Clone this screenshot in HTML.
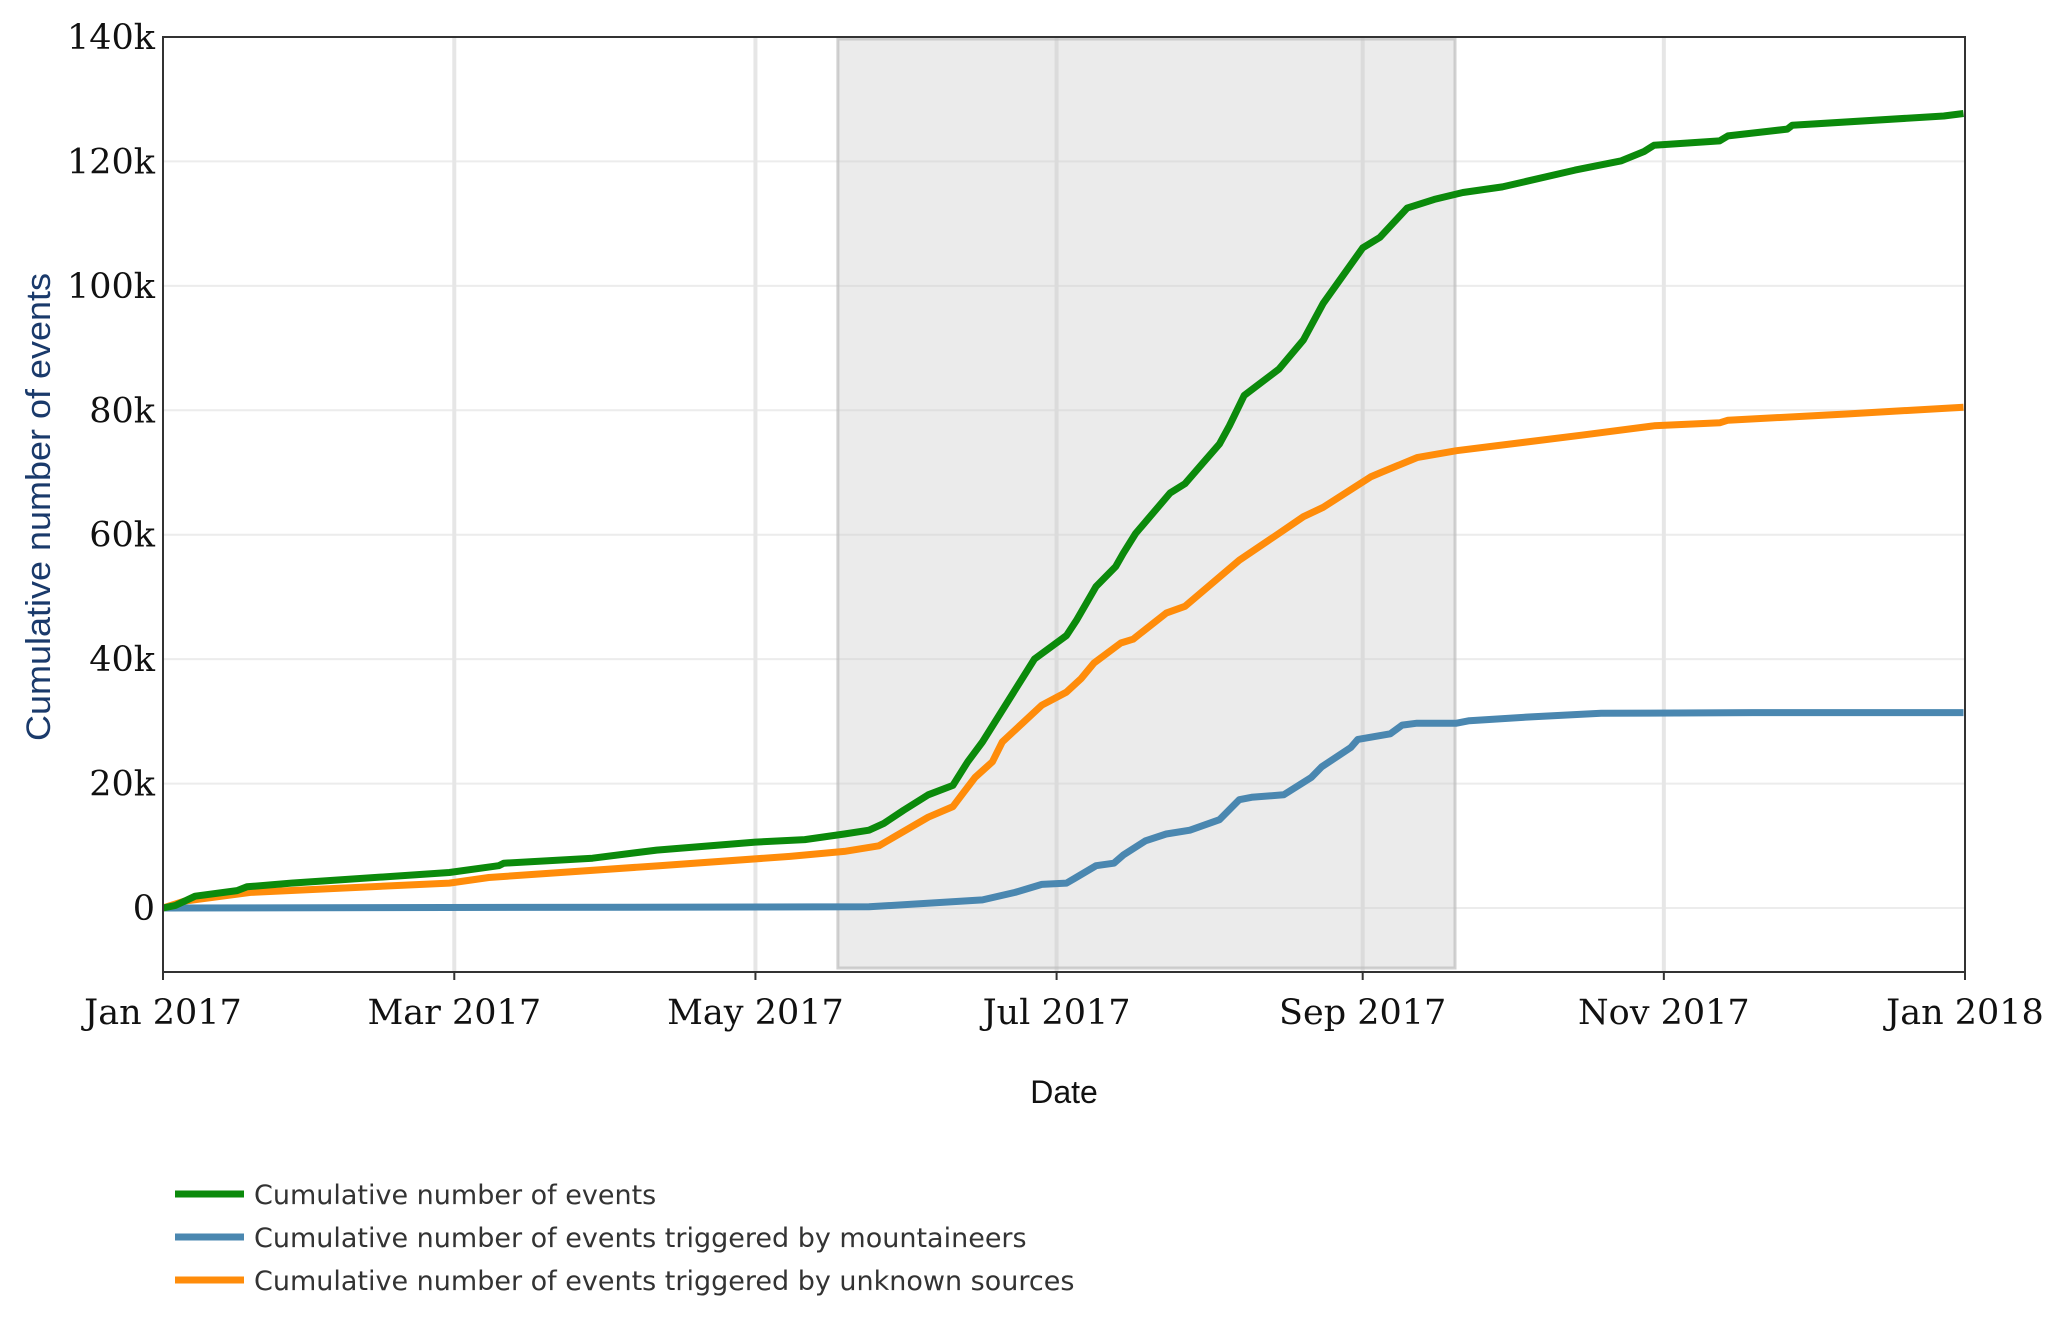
<!DOCTYPE html>
<html><head><meta charset="utf-8"><style>
html,body{margin:0;padding:0;background:#fff;}
svg{display:block;}
</style></head><body>
<svg id="chart" width="2067" height="1319" xmlns="http://www.w3.org/2000/svg">
<g id="grid"></g>
<rect id="shade"></rect>
<g id="series"></g>
<g id="axes"></g>
<text x="50" y="507" transform="rotate(-90 50 507)" text-anchor="middle" font-family="Liberation Sans, sans-serif" font-size="34" textLength="468" lengthAdjust="spacingAndGlyphs" fill="#1a3a6b">Cumulative number of events</text>
<text x="1064" y="1103" text-anchor="middle" font-family="Liberation Sans, sans-serif" font-size="32" fill="#111">Date</text>
<g font-family="DejaVu Sans, sans-serif" font-size="27" fill="#333">
<g><line x1="175" y1="1194" x2="244" y2="1194" stroke="#0b8a0b" stroke-width="7"/><text x="254" y="1204">Cumulative number of events</text></g>
<g><line x1="175" y1="1237" x2="244" y2="1237" stroke="#4a87b0" stroke-width="7"/><text x="254" y="1247">Cumulative number of events triggered by mountaineers</text></g>
<g><line x1="175" y1="1280" x2="244" y2="1280" stroke="#ff8c0a" stroke-width="7"/><text x="254" y="1290">Cumulative number of events triggered by unknown sources</text></g>
</g>
</svg>
<script>
const totalDays=[0,2.5,6.5,15,17,26,58,68,69,87,100,120,130,138,143,146,150,155,160,161,163,166,176.5,183,185,189,193,194.5,197,204,207,210.5,214,216,219,226,231,235,243,246.5,252,257.5,263.3,271.3,286,295.4,300,302,315.3,317,329,330,360.7,364.7];
const totalValues=[0,0.4,1.9,2.8,3.4,4.0,5.7,6.8,7.2,8.0,9.3,10.6,11.0,11.9,12.5,13.6,15.7,18.2,19.7,21.0,23.5,26.7,40.0,43.8,46.2,51.7,54.9,57.0,60.2,66.7,68.2,71.4,74.6,77.5,82.4,86.6,91.3,97.2,106.1,107.8,112.5,113.9,115.0,115.9,118.6,120.1,121.6,122.6,123.3,124.1,125.2,125.8,127.3,127.7];
const unknownDays=[0,4.3,17.7,58,66,100.5,127,138,145,155,160,162,164.5,168,170,178,183,186,188.6,194,196.5,203.2,207,218,226,231,235,244.6,247,254,262,287.3,302,315.4,317,341,364.7];
const unknownValues=[0,1.1,2.5,4.0,4.9,6.8,8.3,9.1,10.0,14.6,16.3,18.4,21.0,23.5,26.7,32.6,34.7,36.9,39.4,42.6,43.2,47.4,48.5,55.9,60.2,62.9,64.4,69.3,70.1,72.4,73.5,76.0,77.5,78.0,78.4,79.4,80.5];
const mountDays=[0,143,166,172.6,178,183,184.5,189,192.6,194.5,199,203.2,208,214,218,220.5,227,232.6,234.7,240.6,242,248.6,251,254,262,264.6,276.6,291.3,322,364.7];
const mountValues=[0,0.2,1.3,2.5,3.8,4.0,4.7,6.8,7.2,8.5,10.8,11.9,12.5,14.2,17.4,17.8,18.2,21.0,22.7,25.8,27.1,28.0,29.4,29.7,29.7,30.1,30.7,31.3,31.4,31.4];
const yTicks=[0,20,40,60,80,100,120,140];
const yTickLabels=["0","20k","40k","60k","80k","100k","120k","140k"];
const xTicks=[0,59,120,181,243,304,365];
const xTickLabels=["Jan 2017","Mar 2017","May 2017","Jul 2017","Sep 2017","Nov 2017","Jan 2018"];
const shadeRange=[136.7,261.7];

const L=163,R=1965,T=37,B=972;
const X=d=>L+(R-L)*d/365;
const Y=v=>908-(908-37)*v/140;
const NS="http://www.w3.org/2000/svg";
function mk(tag,attrs,parent){const e=document.createElementNS(NS,tag);for(const k in attrs)e.setAttribute(k,attrs[k]);parent.appendChild(e);return e;}
const grid=document.getElementById('grid'),axes=document.getElementById('axes'),series=document.getElementById('series');
yTicks.forEach((t,i)=>{
 const g=mk('line',{x1:L,x2:R,y1:Y(t),y2:Y(t),stroke:'#ececec','stroke-width':2},grid);
 
 
 const tx=mk('text',{x:L-8,y:Y(t)+12,'text-anchor':'end','font-family':'DejaVu Serif, serif','font-size':35,fill:'#111'},axes);
 tx.textContent=yTickLabels[i];
 
 
});
xTicks.forEach((t,i)=>{
 if(i>0&&i<xTicks.length-1){const g=mk('line',{x1:X(t),x2:X(t),y1:T,y2:B,stroke:'#e6e6e6','stroke-width':4},grid);
 
 }
 const tk=mk('line',{x1:X(t),x2:X(t),y1:B,y2:B+8,stroke:'#333','stroke-width':2},axes);
 
 
 const tx=mk('text',{x:X(t),y:B+52,'text-anchor':'middle','font-family':'DejaVu Serif, serif','font-size':35,fill:'#111'},axes);
 tx.textContent=xTickLabels[i];
 
 
});
const sh=document.getElementById('shade');
sh.setAttribute('x',X(shadeRange[0]));sh.setAttribute('y',T+2);
sh.setAttribute('width',X(shadeRange[1])-X(shadeRange[0]));sh.setAttribute('height',B-T-6);
sh.setAttribute('fill','rgba(200,200,200,0.36)');sh.setAttribute('stroke','rgba(190,190,190,0.7)');sh.setAttribute('stroke-width','3');
function line(days,vals,color,name){
 const p=mk('polyline',{points:days.map((d,i)=>X(d).toFixed(1)+','+Y(vals[i]).toFixed(1)).join(' '),fill:'none',stroke:color,'stroke-width':7,'stroke-linejoin':'round'},series);
 
 
}
line(mountDays,mountValues,'#4a87b0','mountaineers-line');
line(unknownDays,unknownValues,'#ff8c0a','unknown-sources-line');
line(totalDays,totalValues,'#0b8a0b','total-events-line');
const frame=mk('rect',{x:L,y:T,width:R-L,height:B-T,fill:'none',stroke:'#333','stroke-width':2},axes);


</script>
</body></html>
